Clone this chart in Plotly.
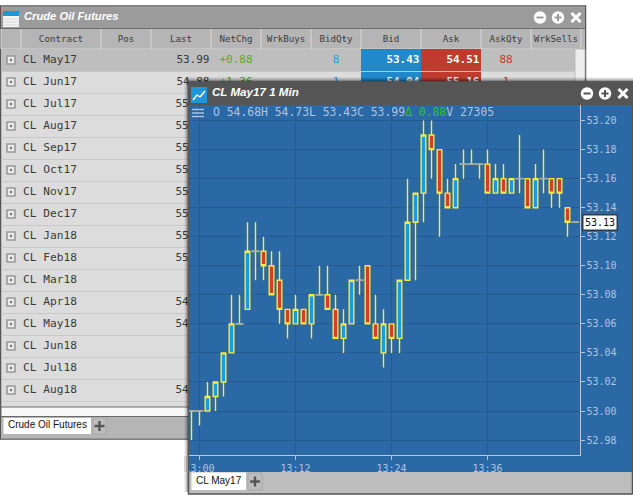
import pandas as pd
import plotly.graph_objects as go

# ---- chart data ----
opens = [53.00,53.00,53.00,53.01,53.02,53.04,53.06,53.07,53.11,53.11,53.10,53.09,53.07,53.06,53.07,53.06,53.08,53.08,53.07,53.05,53.06,53.09,53.10,53.06,53.04,53.06,53.05,53.09,53.13,53.15,53.19,53.18,53.15,53.14,53.17,53.17,53.17,53.17,53.15,53.16,53.15,53.16,53.16,53.14,53.16,53.16,53.16,53.14,53.13]
highs = [53.00,53.00,53.02,53.02,53.04,53.08,53.08,53.13,53.13,53.12,53.11,53.11,53.07,53.08,53.07,53.08,53.10,53.10,53.08,53.07,53.09,53.10,53.10,53.08,53.07,53.06,53.09,53.16,53.15,53.20,53.20,53.18,53.16,53.17,53.18,53.18,53.17,53.18,53.17,53.17,53.16,53.19,53.16,53.17,53.18,53.16,53.16,53.14,53.13]
lows = [52.98,52.99,53.00,53.00,53.01,53.04,53.06,53.07,53.09,53.09,53.08,53.06,53.05,53.06,53.06,53.05,53.08,53.07,53.05,53.04,53.06,53.08,53.06,53.05,53.03,53.04,53.04,53.09,53.09,53.13,53.16,53.12,53.14,53.14,53.16,53.17,53.16,53.15,53.15,53.15,53.15,53.15,53.14,53.14,53.15,53.14,53.14,53.12,53.13]
closes = [53.00,53.00,53.01,53.02,53.04,53.06,53.06,53.11,53.11,53.10,53.08,53.07,53.06,53.07,53.06,53.08,53.08,53.07,53.05,53.06,53.09,53.09,53.06,53.05,53.06,53.05,53.09,53.13,53.15,53.19,53.18,53.15,53.14,53.16,53.17,53.17,53.17,53.15,53.16,53.15,53.16,53.16,53.14,53.16,53.16,53.15,53.15,53.13,53.13]
times = pd.date_range("2017-03-20 12:59:00", periods=len(opens), freq="min")
last_price = 53.13

# ---- table data ----
contracts = ["CL May17","CL Jun17","CL Jul17","CL Aug17","CL Sep17","CL Oct17","CL Nov17","CL Dec17",
             "CL Jan18","CL Feb18","CL Mar18","CL Apr18","CL May18","CL Jun18","CL Jul18","CL Aug18"]
last_visible = ["53.99","54.88","55","55","55","55","55","55","55","55","","54","54","","","54"]
headers = ["Contract","Pos","Last","NetChg","WrkBuys","BidQty","Bid","Ask","AskQty","WrkSells"]
netchg = ["+0.88","+1.36"]
bidqty = ["8","1"]
bids = ["53.43","54.94"]
asks = ["54.51","55.16"]
askqty = ["88","1"]

MONO = "DejaVu Sans Mono"
SANS = "Liberation Sans"
W, H = 633, 503

fig = go.Figure()
shapes = []


def rect(ax, x0, y0, x1, y1, fill, line=None, lw=1, layer="below", opacity=None, kind="rect"):
    s = dict(type=kind, xref="x" + ax, yref="y" + ax, x0=x0, y0=y0, x1=x1, y1=y1,
             fillcolor=fill, layer=layer, line=dict(color=line or "rgba(0,0,0,0)", width=lw if line else 0))
    if opacity is not None:
        s["opacity"] = opacity
    shapes.append(s)


def seg(ax, x0, y0, x1, y1, color, lw=1, layer="below"):
    shapes.append(dict(type="line", xref="x" + ax, yref="y" + ax, x0=x0, y0=y0, x1=x1, y1=y1,
                       layer=layer, line=dict(color=color, width=lw)))


def text(ax, xs, ys, labels, pos, family, size, color):
    fig.add_trace(go.Scatter(x=xs, y=ys, text=labels, mode="text", textposition=pos,
                             textfont=dict(family=family, size=size, color=color),
                             xaxis="x" + ax, yaxis="y" + ax, hoverinfo="skip", showlegend=False))


def window_buttons(ax, cx_minus, cy, dark):
    cx_plus, cx_x = cx_minus + 18, cx_minus + 36
    r = 6.2
    rect(ax, cx_minus - r, cy - r, cx_minus + r, cy + r, "white", kind="circle")
    rect(ax, cx_plus - r, cy - r, cx_plus + r, cy + r, "white", kind="circle")
    seg(ax, cx_minus - 3.5, cy, cx_minus + 3.5, cy, dark, 2)
    seg(ax, cx_plus - 3.5, cy, cx_plus + 3.5, cy, dark, 2)
    seg(ax, cx_plus, cy - 3.5, cx_plus, cy + 3.5, dark, 2)
    seg(ax, cx_x - 4.5, cy - 4.5, cx_x + 4.5, cy + 4.5, "white", 3)
    seg(ax, cx_x - 4.5, cy + 4.5, cx_x + 4.5, cy - 4.5, "white", 3)


# ================= back window (page-pixel axes x / y) =================
rect("", 0.5, 6, 585.5, 439, "#DCDCDC", "#555555", 1.5)
rect("", 1, 6.5, 585, 28.5, "#9B9B9B")
seg("", 0, 28.7, 586, 28.7, "#5A5A5A", 1)
# table icon
rect("", 3, 11, 19, 27, "#F4F4F4")
rect("", 3, 11, 19, 16, "#1E96DC")
for yy in (19, 22, 25):
    seg("", 3, yy, 19, yy, "#D8D8D8", 1)
window_buttons("", 540, 17.5, "#9B9B9B")
# header row
col_edges = [21, 101, 151, 211, 261, 311, 361, 421, 481, 531, 581]
rect("", 1, 29, 585, 49, "#B5B5B5")
for e in [1] + col_edges:
    seg("", e, 29, e, 49, "#D4D4D4", 1.2)
seg("", 1, 49, 581, 49, "#D4D4D4", 1)
# rows
row_y = [60.5 + 22 * i for i in range(len(contracts))]
rect("", 1, 49, 575, 71, "#BEBEBE")
rect("", 361, 49, 421, 71, "#2188CA")
rect("", 421, 49, 481, 71, "#BF3B2E")
rect("", 361, 71, 421, 93, "#2188CA")
rect("", 421, 71, 481, 93, "#BF3B2E")
rect("", 575, 49, 585, 90, "#EDEDED", "#B0B0B0", 0.7)
for yc in row_y:
    seg("", 1, yc + 11, 575, yc + 11, "#C8C8C8", 1)
    rect("", 7, yc - 4.5, 15, yc + 3.5, "#EDEDED", "#9A9A9A", 1.6)
    rect("", 9.8, yc - 1.7, 12.2, yc + 0.7, "#808080")
# scroll strip and tab bar
rect("", 1, 407, 585, 416.5, "#F8F8F8", "#6A6A6A", 1)
rect("", 1, 417, 585, 438.5, "#B5B5B5")
rect("", 3.5, 418, 91, 434, "white")
rect("", 93, 418, 106, 434, "#BDBDBD", "#A8A8A8", 1)
seg("", 94.5, 426, 104.5, 426, "#555555", 2.4)
seg("", 99.5, 421, 99.5, 431, "#555555", 2.4)

text("", [24], [17.5], ["<b><i>Crude Oil Futures</i></b>"], "middle right", SANS, 11.2, "white")
centers = [(a + b) / 2 for a, b in zip(col_edges[:-1], col_edges[1:])]
text("", centers, [39.5] * len(headers), headers, "middle center", MONO, 9.2, "#3C3C3C")
text("", [23] * len(contracts), row_y, contracts, "middle right", MONO, 11.2, "#3A3A3A")
full_last = [(y, t) for y, t in zip(row_y, last_visible) if len(t) == 5]
text("", [209.5] * len(full_last), [p[0] for p in full_last], [p[1] for p in full_last], "middle left", MONO, 11, "#3A3A3A")
part_last = [(y, t) for y, t in zip(row_y, last_visible) if len(t) == 2]
text("", [175.5] * len(part_last), [p[0] for p in part_last], [p[1] for p in part_last], "middle right", MONO, 11, "#3A3A3A")
text("", centers[3:4] * 2, row_y[:2], netchg, "middle center", MONO, 11, "#57A82A")
text("", centers[5:6] * 2, row_y[:2], bidqty, "middle center", MONO, 11, "#2A96E0")
text("", [419.5] * 2, row_y[:2], ["<b>%s</b>" % b for b in bids], "middle left", MONO, 11, "white")
text("", [479.5] * 2, row_y[:2], ["<b>%s</b>" % a for a in asks], "middle left", MONO, 11, "white")
text("", centers[8:9] * 2, row_y[:2], askqty, "middle center", MONO, 11, "#C8392B")
text("", [8], [425.5], ["Crude Oil Futures"], "middle right", SANS, 10, "#111111")

# ================= front window chrome (page-pixel axes x2 / y2) =================
for inset, op in ((0, 0.10), (1.3, 0.14), (2.6, 0.2), (3.6, 0.3)):
    rect("2", 184.5 + inset, 77.5 + inset, 640, 492, "black", opacity=op)
rect("2", 188.5, 82, 632.5, 494, "#BDBDBD", "#555555", 1.5)
rect("2", 189, 82, 632, 105, "#555555")
rect("2", 189, 105, 632, 472, "#2B68A6")
# chart icon
rect("2", 191, 87, 207, 103, "#1E96DC")
seg("2", 193, 100, 197, 95, "white", 1.5)
seg("2", 197, 95, 200, 97, "white", 1.5)
seg("2", 200, 97, 205, 91, "white", 1.5)
window_buttons("2", 587, 93.5, "#555555")
# menu glyph
for yy in (109.5, 113, 116.5):
    seg("2", 192, yy, 204, yy, "#B4C8E0", 1.4, layer="above")
# tabs
rect("2", 191.5, 472.5, 246, 490, "white")
rect("2", 248, 473, 262, 490, "#BDBDBD", "#A8A8A8", 1)
seg("2", 250, 481.5, 260, 481.5, "#555555", 2.4)
seg("2", 255, 476.5, 255, 486.5, "#555555", 2.4)

text("2", [212], [93.5], ["<b><i>CL May17 1 Min</i></b>"], "middle right", SANS, 11.6, "white")
text("2", [196], [481], ["CL May17"], "middle right", SANS, 10, "#111111")
info = ('O 54.68H 54.73L 53.43C 53.99<span style="color:#35C21E">\u0394 0.88</span>V 27305')

# ================= the chart itself (x3 / y3) =================
fig.add_trace(go.Candlestick(
    x=times, open=opens, high=highs, low=lows, close=closes,
    xaxis="x3", yaxis="y3", whiskerwidth=0,
    increasing=dict(fillcolor="#1E98DC", line=dict(color="#FAEC3E", width=1.4)),
    decreasing=dict(fillcolor="#D63E23", line=dict(color="#FAEC3E", width=1.4)),
    hoverinfo="skip", showlegend=False))

doji_x = [t for t, o, c in zip(times, opens, closes) if o == c]
doji_y = [c for o, c in zip(opens, closes) if o == c]
fig.add_trace(go.Scatter(x=doji_x, y=doji_y, mode="markers", xaxis="x3", yaxis="y3",
                         marker=dict(symbol="line-ew", size=6, line=dict(color="#A3AEA0", width=1.8)),
                         hoverinfo="skip", showlegend=False))

# masks for the part of the first time label that the window clips
rect("2", 184, 456, 186, 472, "#D5D5D5", layer="above")
rect("2", 186, 456, 188, 472, "#9E9E9E", layer="above")
rect("2", 188, 456, 189.2, 472, "#555555", layer="above")

tick_font = dict(family=MONO, size=10, color="#AFC4DE")
hidden = dict(visible=False, fixedrange=True)
fig.update_layout(
    width=W, height=H, autosize=False,
    margin=dict(l=0, r=0, t=0, b=0, pad=0, autoexpand=False),
    paper_bgcolor="white", plot_bgcolor="rgba(0,0,0,0)",
    showlegend=False, hovermode=False, dragmode=False,
    boxgap=0.18,
    shapes=shapes,
    xaxis=dict(range=[0, W], domain=[0, 1], automargin=False, **hidden),
    yaxis=dict(range=[H, 0], domain=[0, 1], anchor="x", automargin=False, **hidden),
    xaxis2=dict(range=[0, W], domain=[0, 1], anchor="y2", automargin=False, **hidden),
    yaxis2=dict(range=[H, 0], domain=[0, 1], anchor="x2", automargin=False, **hidden),
    xaxis3=dict(
        domain=[189 / W, 579.5 / W], anchor="y3", type="date", automargin=False,
        range=["2017-03-20 12:58:41.25", "2017-03-20 13:47:30"],
        tick0="2017-03-20 13:00:00", dtick=720000, tickformat="%H:%M",
        showgrid=True, gridcolor="#255A93", gridwidth=1, zeroline=False,
        showline=True, linecolor="#B4C8E0", linewidth=1,
        ticks="outside", ticklen=4, tickcolor="#B4C8E0", tickfont=tick_font,
        rangeslider=dict(visible=False), fixedrange=True),
    yaxis3=dict(
        domain=[1 - 455 / H, 1 - 105 / H], anchor="x3", side="right", automargin=False,
        range=[52.9697, 53.2107], tick0=52.98, dtick=0.02, tickformat=".2f",
        showgrid=True, gridcolor="#255A93", gridwidth=1, zeroline=False,
        showline=True, linecolor="#B4C8E0", linewidth=1,
        ticks="outside", ticklen=4, tickcolor="#B4C8E0", tickfont=tick_font, fixedrange=True),
    annotations=[
        dict(xref="paper", yref="y3", x=599.5 / W, y=last_price, xanchor="center", yanchor="middle",
             text="%.2f" % last_price,
             showarrow=False, bgcolor="white", bordercolor="#2A3A50", borderwidth=1.5, borderpad=1.5,
             font=dict(family=MONO, size=10, color="#111111")),
        dict(xref="paper", yref="paper", x=211 / W, y=1 - 112 / H, xanchor="left", yanchor="middle",
             text=info, showarrow=False, font=dict(family=MONO, size=11.4, color="#AFC4DE")),
    ],
)

fig.write_html("out.html", config=dict(displayModeBar=False, staticPlot=True),
               post_script="document.body.style.margin='0';document.documentElement.style.overflow='hidden';")
